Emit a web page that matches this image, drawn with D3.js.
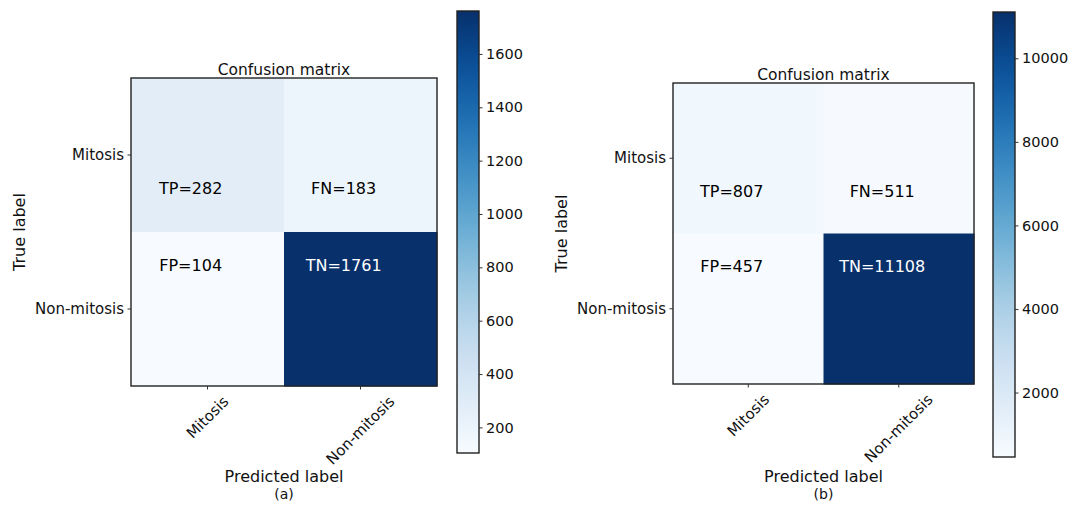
<!DOCTYPE html>
<html>
<head>
<meta charset="utf-8">
<script src="https://cdn.jsdelivr.net/npm/d3@7"></script>
<style>
  html, body { margin: 0; padding: 0; background: #fff; }
  svg { display: block; font-family: "DejaVu Sans", sans-serif; }
</style>
</head>
<body>
<svg id="chart" width="1079" height="505"></svg>
<script>
// Class names shared by both matrices
const categories = ["Mitosis", "Non-mitosis"];

// Cell labels, row-major: [true Mitosis][pred Mitosis], ...
const cellNames = [["TP", "FN"], ["FP", "TN"]];

// Counts for model (a)
const valuesA = [[282, 183], [104, 1761]];
// Counts for model (b)
const valuesB = [[807, 511], [457, 11108]];

// Colorbar tick labels
const cbarTicksA = [200, 400, 600, 800, 1000, 1200, 1400, 1600];
const cbarTicksB = [2000, 4000, 6000, 8000, 10000];

const panelCaptions = ["(a)", "(b)"];

const svg = d3.select("#chart");

function drawPanel(values, cbarTicks, caption, L) {
  const g = svg.append("g");
  const flat = values.flat();
  const vmin = d3.min(flat), vmax = d3.max(flat);
  const color = v => d3.interpolateBlues((v - vmin) / (vmax - vmin));

  const x = d3.scaleBand().domain(categories).range([L.x0, L.x1]);
  const y = d3.scaleBand().domain(categories).range([L.y0, L.y1]);
  const bw = x.bandwidth(), bh = y.bandwidth();

  const cells = [];
  values.forEach((row, i) => row.forEach((v, j) => cells.push({ i, j, v })));

  // heatmap cells
  g.selectAll("rect.cell").data(cells).join("rect")
    .attr("class", "cell")
    .attr("x", d => x(categories[d.j]))
    .attr("y", d => y(categories[d.i]))
    .attr("width", bw + 0.5)
    .attr("height", bh + 0.5)
    .attr("fill", d => color(d.v));

  // cell annotations
  g.selectAll("text.ann").data(cells).join("text")
    .attr("class", "ann")
    .attr("x", d => x(categories[d.j]) + bw * 0.39)
    .attr("y", d => y(categories[d.i]) + bh * (d.i === 0 ? 0.72 : 0.22))
    .attr("text-anchor", "middle")
    .attr("dominant-baseline", "central")
    .attr("font-size", 16)
    .attr("fill", d => d.v > vmax / 2 ? "#fff" : "#000")
    .text(d => `${cellNames[d.i][d.j]}=${d.v}`);

  // frame
  g.append("rect")
    .attr("x", L.x0).attr("y", L.y0)
    .attr("width", L.x1 - L.x0).attr("height", L.y1 - L.y0)
    .attr("fill", "none").attr("stroke", "#222").attr("stroke-width", 1.4);

  // y axis
  const ya = g.append("g")
    .attr("transform", `translate(${L.x0},0)`)
    .call(d3.axisLeft(y).tickSize(3.5).tickPadding(3.5));
  ya.select(".domain").remove();
  ya.selectAll("text").attr("font-size", 15).attr("font-family", "DejaVu Sans").attr("fill", "#111");
  ya.selectAll("line").attr("stroke", "#333");

  // x axis with 45° labels centred on the ticks
  const xa = g.append("g")
    .attr("transform", `translate(0,${L.y1})`)
    .call(d3.axisBottom(x).tickSize(3.5).tickPadding(3.5));
  xa.select(".domain").remove();
  xa.selectAll("line").attr("stroke", "#333");
  xa.selectAll("text")
    .attr("font-size", 15).attr("font-family", "DejaVu Sans").attr("fill", "#111")
    .attr("text-anchor", "middle").attr("dominant-baseline", "central")
    .attr("y", 0).attr("dy", 0)
    .each(function () {
      const w = this.getComputedTextLength();
      const h = 17;
      const half = (w + h) * Math.SQRT1_2 / 2;
      d3.select(this).attr("transform", `translate(0,${7 + half}) rotate(-45)`);
    });

  // title
  g.append("text")
    .attr("x", (L.x0 + L.x1) / 2).attr("y", L.y0 - 3)
    .attr("text-anchor", "middle").attr("font-size", 15.5).attr("fill", "#111")
    .text("Confusion matrix");

  // axis titles
  g.append("text")
    .attr("transform", `translate(${L.ylabX},${(L.y0 + L.y1) / 2}) rotate(-90)`)
    .attr("text-anchor", "middle").attr("dominant-baseline", "central")
    .attr("font-size", 16).attr("fill", "#111")
    .text("True label");
  g.append("text")
    .attr("x", (L.x0 + L.x1) / 2).attr("y", 482)
    .attr("text-anchor", "middle").attr("font-size", 16).attr("fill", "#111")
    .text("Predicted label");
  g.append("text")
    .attr("x", (L.x0 + L.x1) / 2).attr("y", 499)
    .attr("text-anchor", "middle").attr("font-size", 14).attr("fill", "#111")
    .text(caption);

  // colorbar
  const gid = "grad" + caption.replace(/\W/g, "");
  const grad = svg.append("defs").append("linearGradient")
    .attr("id", gid).attr("x1", 0).attr("y1", 1).attr("x2", 0).attr("y2", 0);
  d3.range(0, 1.0001, 0.05).forEach(t => {
    grad.append("stop").attr("offset", t).attr("stop-color", d3.interpolateBlues(t));
  });
  const cs = d3.scaleLinear().domain([vmin, vmax]).range([L.c.y1, L.c.y0]);
  g.append("rect")
    .attr("x", L.c.x0).attr("y", L.c.y0)
    .attr("width", L.c.x1 - L.c.x0).attr("height", L.c.y1 - L.c.y0)
    .attr("fill", `url(#${gid})`).attr("stroke", "#222").attr("stroke-width", 1.4);
  const ca = g.append("g")
    .attr("transform", `translate(${L.c.x1},0)`)
    .call(d3.axisRight(cs).tickValues(cbarTicks).tickSize(3.5).tickPadding(3.5).tickFormat(d3.format("d")));
  ca.select(".domain").remove();
  ca.selectAll("line").attr("stroke", "#333");
  ca.selectAll("text").attr("font-size", 14.5).attr("font-family", "DejaVu Sans").attr("fill", "#111");
}

drawPanel(valuesA, cbarTicksA, panelCaptions[0], {
  x0: 131, x1: 437, y0: 78, y1: 386, ylabX: 19,
  c: { x0: 457, x1: 479, y0: 11, y1: 453 }
});
drawPanel(valuesB, cbarTicksB, panelCaptions[1], {
  x0: 673, x1: 974, y0: 83, y1: 384, ylabX: 561,
  c: { x0: 993, x1: 1015, y0: 12, y1: 457 }
});
</script>
</body>
</html>
